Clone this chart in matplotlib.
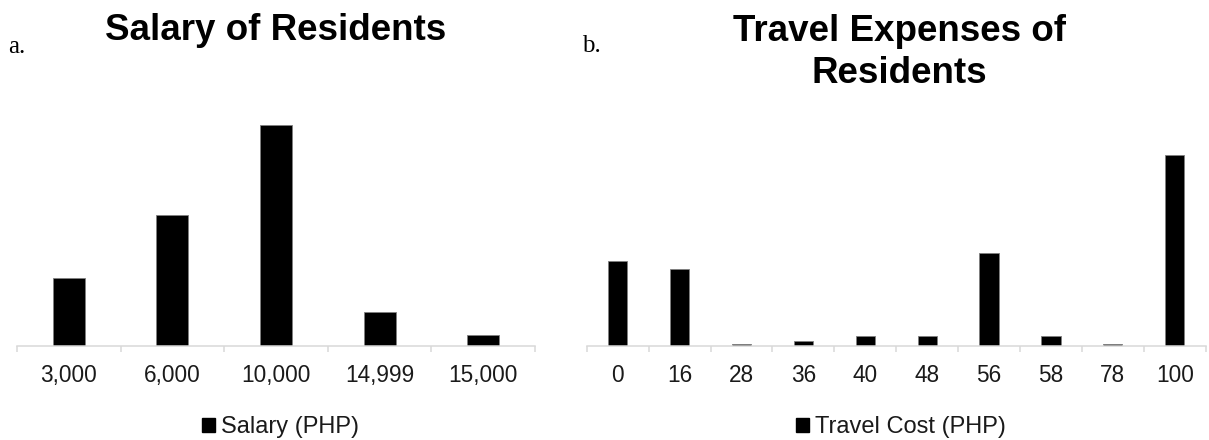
import matplotlib
matplotlib.use("Agg")
import matplotlib.pyplot as plt
from matplotlib.patches import Patch
import numpy as np

# ---- data ----
salary_labels = ["3,000", "6,000", "10,000", "14,999", "15,000"]
salary_values = [12, 23, 39, 6, 2]

travel_labels = ["0", "16", "28", "36", "40", "48", "56", "58", "78", "100"]
travel_values = [17.5, 15.8, 0.4, 1.0, 2.1, 2.1, 19.2, 2.1, 0.4, 39.3]

left_title = "Salary of Residents"
right_title = "Travel Expenses of\nResidents"
left_legend = "Salary (PHP)"
right_legend = "Travel Cost (PHP)"

W, H = 1209, 440
fig = plt.figure(figsize=(W / 100, H / 100), dpi=100)
plt.rcParams["font.family"] = ["Liberation Sans", "DejaVu Sans"]

GRAY = "#d9d9d9"


def px_rect(x0, x1, ybase, height):
    return [x0 / W, 1 - ybase / H, (x1 - x0) / W, height / H]


def draw(ax, labels, values, ymax, legend_label, legend_cx):
    n = len(labels)
    x = np.arange(n)
    ax.bar(x, values, width=0.31, color="black", edgecolor="#7f7f7f",
           linewidth=0.6, zorder=2)
    ax.set_xlim(-0.5, n - 0.5)
    ax.set_ylim(0, ymax)
    for s in ["top", "right", "left"]:
        ax.spines[s].set_visible(False)
    ax.spines["bottom"].set_color(GRAY)
    ax.spines["bottom"].set_linewidth(1.1)
    ax.spines["bottom"].set_zorder(3)
    ax.set_yticks([])
    ax.set_xticks(np.arange(n + 1) - 0.5)
    ax.set_xticklabels([])
    ax.tick_params(axis="x", which="major", length=4.3, width=1.1,
                   color=GRAY, direction="out")
    ax.set_xticks(x, minor=True)
    ax.set_xticklabels(labels, minor=True, fontsize=16.3, color="#1a1a1a")
    ax.tick_params(axis="x", which="minor", length=0, pad=13)
    handle = Patch(facecolor="black", edgecolor="black")
    fig.legend([handle], [legend_label], loc="center",
               bbox_to_anchor=(legend_cx / W, 1 - 427 / H),
               frameon=False, fontsize=17, handlelength=0.55,
               handleheight=0.55, handletextpad=0.25, borderpad=0,
               labelcolor="#1a1a1a")


axL = fig.add_axes(px_rect(17, 535, 346, 236))
draw(axL, salary_labels, salary_values, 236 / (221.3 / 39), left_legend, 280.7)

axR = fig.add_axes(px_rect(586.7, 1205.7, 346, 236))
draw(axR, travel_labels, travel_values, 236 / 4.853, right_legend, 900.5)

fig.text(275.5 / W, 1 - 40 / H, left_title, ha="center", va="baseline",
         fontsize=26.5, fontweight="bold", color="black")
fig.text(899.6 / W, 1 - 14 / H, right_title, ha="center", va="top",
         fontsize=26.5, fontweight="bold", color="black", linespacing=1.25,
         multialignment="center")

fig.text(8 / W, 1 - 53 / H, "a.", ha="left", va="baseline", fontsize=18,
         family=["Liberation Serif", "DejaVu Serif"])
fig.text(581.7 / W, 1 - 52 / H, "b.", ha="left", va="baseline", fontsize=18,
         family=["Liberation Serif", "DejaVu Serif"])

fig.savefig("out.png", dpi=100, facecolor="white")
